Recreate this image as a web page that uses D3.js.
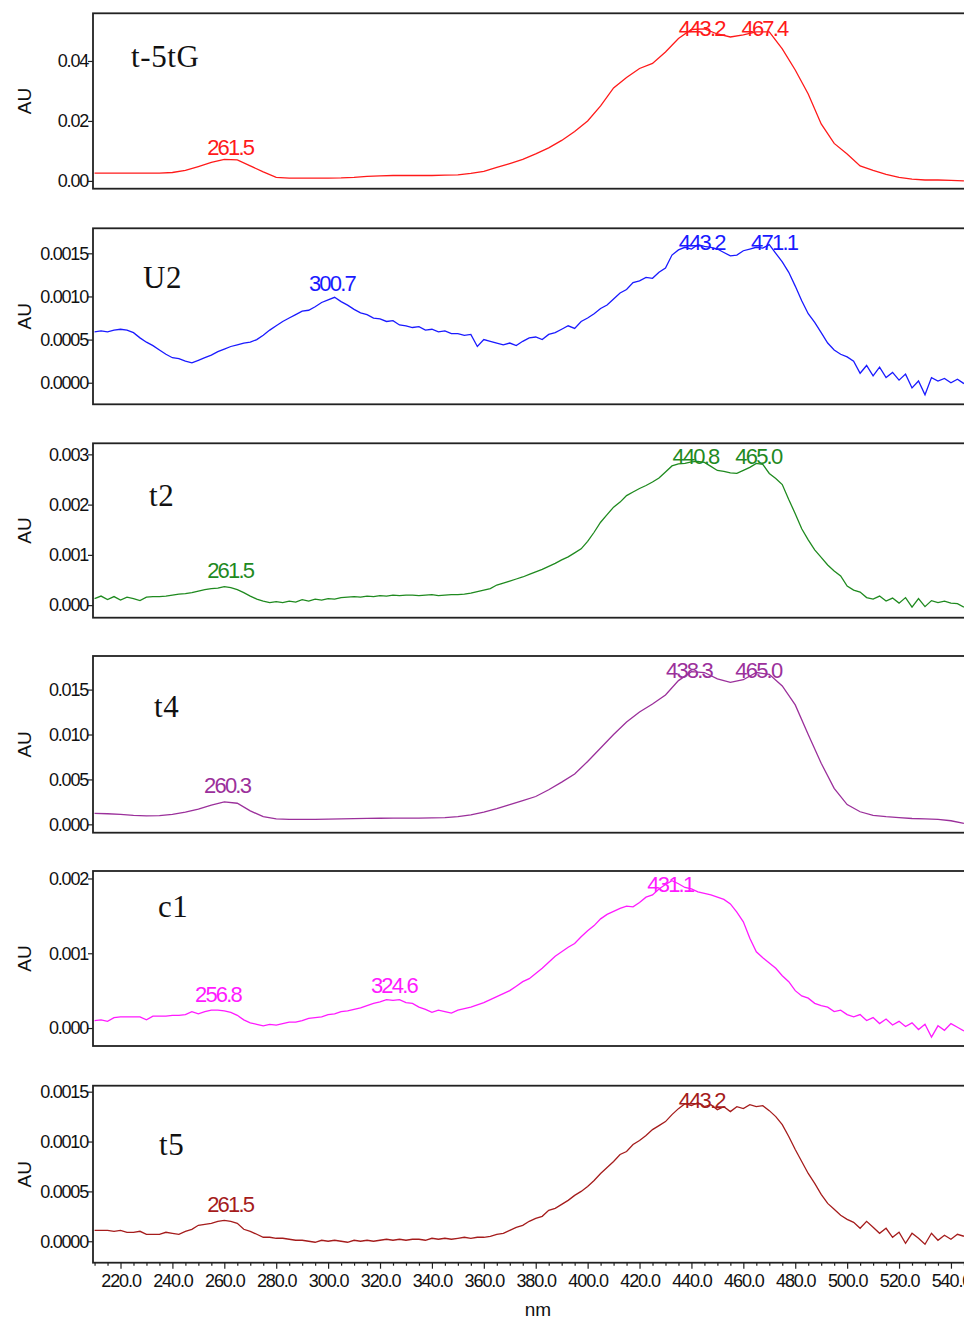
<!DOCTYPE html>
<html><head><meta charset="utf-8">
<script src="https://cdn.jsdelivr.net/npm/d3@7"></script>
<style>body{margin:0;background:#fff}svg{display:block}</style>
</head><body><svg id="c" width="964" height="1319"></svg>
<script>
// ---------- DATA ----------
const wlCoarse = [210,215,220,225,230,235,240,245,250,255,260,265,270,275,280,285,290,295,300,305,310,315,320,325,330,335,340,345,350,355,360,365,370,375,380,385,390,395,400,405,410,415,420,425,430,435,440,445,450,455,460,465,470,475,480,485,490,495,500,505,510,515,520,525,530,535,540,545];
const wlFine = [210,212.5,215,217.5,220,222.5,225,227.5,230,232.5,235,237.5,240,242.5,245,247.5,250,252.5,255,257.5,260,262.5,265,267.5,270,272.5,275,277.5,280,282.5,285,287.5,290,292.5,295,297.5,300,302.5,305,307.5,310,312.5,315,317.5,320,322.5,325,327.5,330,332.5,335,337.5,340,342.5,345,347.5,350,352.5,355,357.5,360,362.5,365,367.5,370,372.5,375,377.5,380,382.5,385,387.5,390,392.5,395,397.5,400,402.5,405,407.5,410,412.5,415,417.5,420,422.5,425,427.5,430,432.5,435,437.5,440,442.5,445,447.5,450,452.5,455,457.5,460,462.5,465,467.5,470,472.5,475,477.5,480,482.5,485,487.5,490,492.5,495,497.5,500,502.5,505,507.5,510,512.5,515,517.5,520,522.5,525,527.5,530,532.5,535,537.5,540,542.5,545];

const seriesT5tG = [0.0026,0.0026,0.0026,0.0026,0.0026,0.0026,0.0028,0.0035,0.0048,0.0062,
 0.0072,0.0070,0.0050,0.0030,0.0012,0.0009,0.0009,0.0009,0.0009,0.0010,
 0.0012,0.0015,0.0017,0.0018,0.0018,0.0018,0.0018,0.0019,0.0020,0.0025,
 0.0032,0.0045,0.0058,0.0072,0.0090,0.0110,0.0135,0.0165,0.0200,0.0250,
 0.0310,0.0345,0.0375,0.0392,0.0430,0.0475,0.0505,0.0507,0.0490,0.0480,
 0.0487,0.0497,0.0497,0.0440,0.0370,0.0290,0.0190,0.0125,0.0090,0.0050,
 0.0035,0.0022,0.0012,0.0006,0.0003,0.0003,0.0002,0.0000];

const seriesU2 = [0.00059,0.00060,0.00059,0.00061,0.00062,0.00061,0.00058,0.00052,0.00047,0.00043,
 0.00038,0.00033,0.00029,0.00028,0.00025,0.00023,0.00026,0.00029,0.00032,0.00036,
 0.00039,0.00042,0.00044,0.00046,0.00047,0.00050,0.00055,0.00061,0.00066,0.00071,
 0.00075,0.00079,0.00083,0.00084,0.00088,0.00093,0.00096,0.00099,0.00094,0.00090,
 0.00085,0.00081,0.00079,0.00075,0.00074,0.00071,0.00072,0.00067,0.00066,0.00064,
 0.00065,0.00061,0.00062,0.00059,0.00060,0.00057,0.00057,0.00055,0.00056,0.00042,
 0.00050,0.00048,0.00046,0.00044,0.00046,0.00043,0.00048,0.00052,0.00053,0.00050,
 0.00056,0.00058,0.00062,0.00066,0.00063,0.00071,0.00075,0.00080,0.00086,0.00090,
 0.00097,0.00104,0.00108,0.00116,0.00118,0.00122,0.00121,0.00128,0.00133,0.00148,
 0.00154,0.00157,0.00155,0.00160,0.00158,0.00157,0.00155,0.00151,0.00147,0.00148,
 0.00153,0.00155,0.00157,0.00156,0.00160,0.00150,0.00140,0.00128,0.00112,0.00095,
 0.00080,0.00070,0.00058,0.00046,0.00038,0.00033,0.00030,0.00025,0.00011,0.00020,
 0.00008,0.00018,0.00006,0.00012,0.00003,0.00010,-0.00006,0.00002,-0.00014,0.00006,
 0.00002,0.00005,0.00000,0.00004,-0.00001];

const seriesT2 = [0.00013,0.00018,0.00011,0.00017,0.00010,0.00016,0.00013,0.00009,0.00016,0.00017,
 0.00017,0.00018,0.00020,0.00022,0.00023,0.00025,0.00028,0.00031,0.00033,0.00034,
 0.00037,0.00035,0.00031,0.00025,0.00018,0.00012,0.00008,0.00005,0.00007,0.00005,
 0.00008,0.00006,0.00011,0.00008,0.00012,0.00010,0.00013,0.00012,0.00015,0.00016,
 0.00017,0.00016,0.00018,0.00017,0.00019,0.00018,0.00020,0.00019,0.00020,0.00020,
 0.00019,0.00020,0.00021,0.00019,0.00020,0.00021,0.00021,0.00022,0.00024,0.00027,
 0.00030,0.00033,0.00040,0.00044,0.00048,0.00052,0.00056,0.00061,0.00066,0.00071,
 0.00077,0.00083,0.00090,0.00096,0.00104,0.00112,0.00127,0.00145,0.00165,0.00180,
 0.00195,0.00205,0.00218,0.00225,0.00232,0.00238,0.00245,0.00253,0.00265,0.00277,
 0.00281,0.00282,0.00285,0.00286,0.00284,0.00276,0.00268,0.00266,0.00263,0.00262,
 0.00268,0.00274,0.00282,0.00280,0.00262,0.00252,0.00240,0.00210,0.00182,0.00152,
 0.00130,0.00110,0.00095,0.00080,0.00068,0.00058,0.00038,0.00030,0.00026,0.00015,
 0.00012,0.00018,0.00008,0.00014,0.00004,0.00015,-0.00004,0.00013,-0.00003,0.00009,
 0.00005,0.00008,0.00004,0.00003,-0.00004];

const seriesT4 = [0.00122,0.00118,0.00110,0.00100,0.00095,0.00096,0.00110,0.00135,0.00170,0.00215,
 0.00250,0.00235,0.00150,0.00085,0.00060,0.00055,0.00055,0.00056,0.00058,0.00060,
 0.00063,0.00066,0.00068,0.00070,0.00070,0.00070,0.00071,0.00074,0.00085,0.00105,
 0.00135,0.00175,0.00220,0.00265,0.00310,0.00385,0.00470,0.00560,0.00700,0.00850,
 0.01000,0.01140,0.01250,0.01340,0.01440,0.01600,0.01700,0.01690,0.01620,0.01580,
 0.01610,0.01690,0.01670,0.01540,0.01330,0.01000,0.00680,0.00400,0.00220,0.00140,
 0.00100,0.00085,0.00075,0.00065,0.00060,0.00055,0.00040,0.00010];

const seriesC1 = [0.00010,0.00011,0.00009,0.00014,0.00015,0.00015,0.00015,0.00015,0.00011,0.00016,
 0.00016,0.00016,0.00017,0.00017,0.00018,0.00022,0.00019,0.00022,0.00024,0.00024,
 0.00023,0.00021,0.00017,0.00011,0.00007,0.00005,0.00003,0.00005,0.00004,0.00006,
 0.00008,0.00008,0.00010,0.00013,0.00014,0.00015,0.00018,0.00019,0.00022,0.00023,
 0.00025,0.00027,0.00030,0.00033,0.00035,0.00038,0.00037,0.00038,0.00034,0.00033,
 0.00028,0.00025,0.00021,0.00024,0.00022,0.00020,0.00024,0.00026,0.00028,0.00031,
 0.00034,0.00038,0.00042,0.00046,0.00050,0.00056,0.00062,0.00066,0.00073,0.00080,
 0.00088,0.00096,0.00102,0.00108,0.00113,0.00122,0.00130,0.00137,0.00146,0.00152,
 0.00156,0.00160,0.00163,0.00162,0.00168,0.00175,0.00178,0.00186,0.00192,0.00197,
 0.00193,0.00188,0.00186,0.00182,0.00180,0.00178,0.00175,0.00172,0.00166,0.00155,
 0.00142,0.00120,0.00102,0.00094,0.00087,0.00080,0.00070,0.00062,0.00050,0.00043,
 0.00040,0.00033,0.00030,0.00028,0.00022,0.00024,0.00018,0.00015,0.00018,0.00010,
 0.00014,0.00006,0.00012,0.00004,0.00009,0.00002,0.00007,-0.00002,0.00005,-0.00012,
 0.00003,-0.00003,0.00006,0.00001,-0.00004];

const seriesT5 = [0.00011,0.00011,0.00011,0.00010,0.00011,0.00009,0.00009,0.00010,0.00007,0.00007,
 0.00007,0.00009,0.00008,0.00007,0.00010,0.00012,0.00016,0.00017,0.00018,0.00020,
 0.00021,0.00020,0.00018,0.00012,0.00010,0.00007,0.00004,0.00004,0.00003,0.00003,
 0.00002,0.00001,0.00001,0.00000,-0.00001,0.00001,0.00000,0.00001,0.00000,-0.00001,
 0.00001,0.00000,0.00001,0.00000,0.00001,0.00002,0.00001,0.00002,0.00001,0.00002,
 0.00002,0.00001,0.00003,0.00002,0.00003,0.00002,0.00003,0.00004,0.00003,0.00004,
 0.00004,0.00005,0.00007,0.00008,0.00011,0.00014,0.00016,0.00020,0.00023,0.00025,
 0.00031,0.00033,0.00037,0.00041,0.00046,0.00050,0.00055,0.00061,0.00068,0.00074,
 0.00080,0.00087,0.00090,0.00097,0.00101,0.00106,0.00112,0.00116,0.00120,0.00127,
 0.00133,0.00138,0.00136,0.00139,0.00135,0.00137,0.00132,0.00135,0.00130,0.00135,
 0.00133,0.00137,0.00135,0.00136,0.00131,0.00125,0.00117,0.00105,0.00092,0.00080,
 0.00068,0.00058,0.00047,0.00038,0.00032,0.00026,0.00022,0.00019,0.00013,0.00020,
 0.00014,0.00008,0.00013,0.00004,0.00009,-0.00002,0.00008,0.00003,-0.00003,0.00008,
 0.00001,0.00006,0.00002,0.00007,0.00005];

// peak annotations: [wavelength, AU of label baseline]
const peaksT5tG = [[261.5,0.0087],[443.2,0.0483],[467.4,0.0483]];
const peaksU2 = [[300.7,0.00106],[443.2,0.00154],[471.1,0.00154]];
const peaksT2 = [[261.5,0.00053],[440.8,0.0028],[465.0,0.0028]];
const peaksT4 = [[260.3,0.00345],[438.3,0.01626],[465.0,0.01626]];
const peaksC1 = [[256.8,0.00035],[324.6,0.00047],[431.1,0.00182]];
const peaksT5 = [[261.5,0.00029],[443.2,0.00134]];

const yTicksT5tG = [0,0.02,0.04];
const yTicksU2 = [0,0.0005,0.0010,0.0015];
const yTicksT2 = [0,0.001,0.002,0.003];
const yTicksT4 = [0,0.005,0.010,0.015];
const yTicksC1 = [0,0.001,0.002];
const yTicksT5 = [0,0.0005,0.0010,0.0015];
const xTicks = [220,240,260,280,300,320,340,360,380,400,420,440,460,480,500,520,540];

// ---------- LAYOUT ----------
const svg = d3.select("#c");
const x = d3.scaleLinear().domain([209.4,545.8]).range([93,966]);
const panels = [
 {name:"t-5tG", wl:wlCoarse, v:seriesT5tG, color:"#ff1a1a", top:13.3, bottom:188.7, dom:[-0.0026,0.0559], ticks:yTicksT5tG, fmt:".2f", peaks:peaksT5tG, tx:131, ty:67},
 {name:"U2", wl:wlFine, v:seriesU2, color:"#1a1aff", top:228.3, bottom:404.3, dom:[-0.00025,0.00179], ticks:yTicksU2, fmt:".4f", peaks:peaksU2, tx:143, ty:288},
 {name:"t2", wl:wlFine, v:seriesT2, color:"#1f8a1f", top:443.3, bottom:617.7, dom:[-0.00025,0.00322], ticks:yTicksT2, fmt:".3f", peaks:peaksT2, tx:149, ty:506},
 {name:"t4", wl:wlCoarse, v:seriesT4, color:"#9b309b", top:656, bottom:832.7, dom:[-0.00093,0.01874], ticks:yTicksT4, fmt:".3f", peaks:peaksT4, tx:154, ty:717},
 {name:"c1", wl:wlFine, v:seriesC1, color:"#ff1aff", top:871, bottom:1046, dom:[-0.00024,0.0021], ticks:yTicksC1, fmt:".3f", peaks:peaksC1, tx:158, ty:917},
 {name:"t5", wl:wlFine, v:seriesT5, color:"#a51c1c", top:1085.7, bottom:1262.7, dom:[-0.000215,0.00156], ticks:yTicksT5, fmt:".4f", peaks:peaksT5, tx:159, ty:1155}
];

const tickFont = "'Liberation Sans', Arial, sans-serif";
panels.forEach((p,i)=>{
  const y = d3.scaleLinear().domain(p.dom).range([p.bottom,p.top]);
  const g = svg.append("g");
  const cid = "clip"+i;
  svg.append("clipPath").attr("id",cid).append("rect")
    .attr("x",93).attr("y",p.top).attr("width",873).attr("height",p.bottom-p.top);
  // line
  const line = d3.line().x(d=>x(d[0])).y(d=>y(d[1]));
  g.append("path").datum(p.wl.map((w,k)=>[w,p.v[k]]))
    .attr("d",line).attr("fill","none").attr("stroke",p.color)
    .attr("stroke-width",1.3).attr("clip-path","url(#"+cid+")");
  // frame
  g.append("rect").attr("x",93).attr("y",p.top).attr("width",873).attr("height",p.bottom-p.top)
    .attr("fill","none").attr("stroke","#222").attr("stroke-width",1.8);
  // y axis
  const ya = g.append("g").attr("transform","translate(93,0)")
    .call(d3.axisLeft(y).tickValues(p.ticks).tickFormat(d3.format(p.fmt)).tickSize(5).tickPadding(0));
  ya.select(".domain").remove();
  ya.selectAll("line").attr("stroke","#222").attr("stroke-width",1.2);
  ya.selectAll("text").attr("font-family",tickFont).attr("font-size",18)
    .attr("letter-spacing","-1.2px").attr("fill","#111").attr("dx","0");
  // AU
  g.append("text").attr("transform",`translate(31,${(p.top+p.bottom)/2}) rotate(-90)`)
    .attr("text-anchor","middle").attr("font-family",tickFont).attr("font-size",19)
    .attr("fill","#111").text("AU");
  // title
  g.append("text").attr("x",p.tx).attr("y",p.ty).attr("font-family","'Liberation Serif', 'Times New Roman', serif")
    .attr("font-size",31).attr("letter-spacing","0.6px").attr("fill","#111").text(p.name);
  // peaks
  g.selectAll(".pk").data(p.peaks).enter().append("text")
    .attr("x",d=>x(d[0])+2).attr("y",d=>y(d[1])).attr("text-anchor","middle")
    .attr("font-family",tickFont).attr("font-size",22).attr("letter-spacing","-1.8px")
    .attr("fill",p.color).text(d=>d[0].toFixed(1));

  if(i===panels.length-1){
    const xa = svg.append("g").attr("transform",`translate(0,${p.bottom})`)
      .call(d3.axisBottom(x).tickValues(xTicks).tickFormat(d3.format(".1f")).tickSize(6).tickPadding(6));
    xa.select(".domain").remove();
    xa.selectAll("line").attr("stroke","#222").attr("stroke-width",1.2);
    xa.selectAll("text").attr("font-family",tickFont).attr("font-size",18)
      .attr("letter-spacing","-1.1px").attr("fill","#111");
    const xm = svg.append("g").attr("transform",`translate(0,${p.bottom})`)
      .call(d3.axisBottom(x).tickValues(wlCoarse.filter(w=>!xTicks.includes(w))).tickFormat("").tickSize(3));
    xm.select(".domain").remove();
    xm.selectAll("line").attr("stroke","#222").attr("stroke-width",1.2);
    svg.append("text").attr("x",538).attr("y",1316).attr("text-anchor","middle")
      .attr("font-family",tickFont).attr("font-size",19).attr("fill","#111").text("nm");
  }
});
</script></body></html>
